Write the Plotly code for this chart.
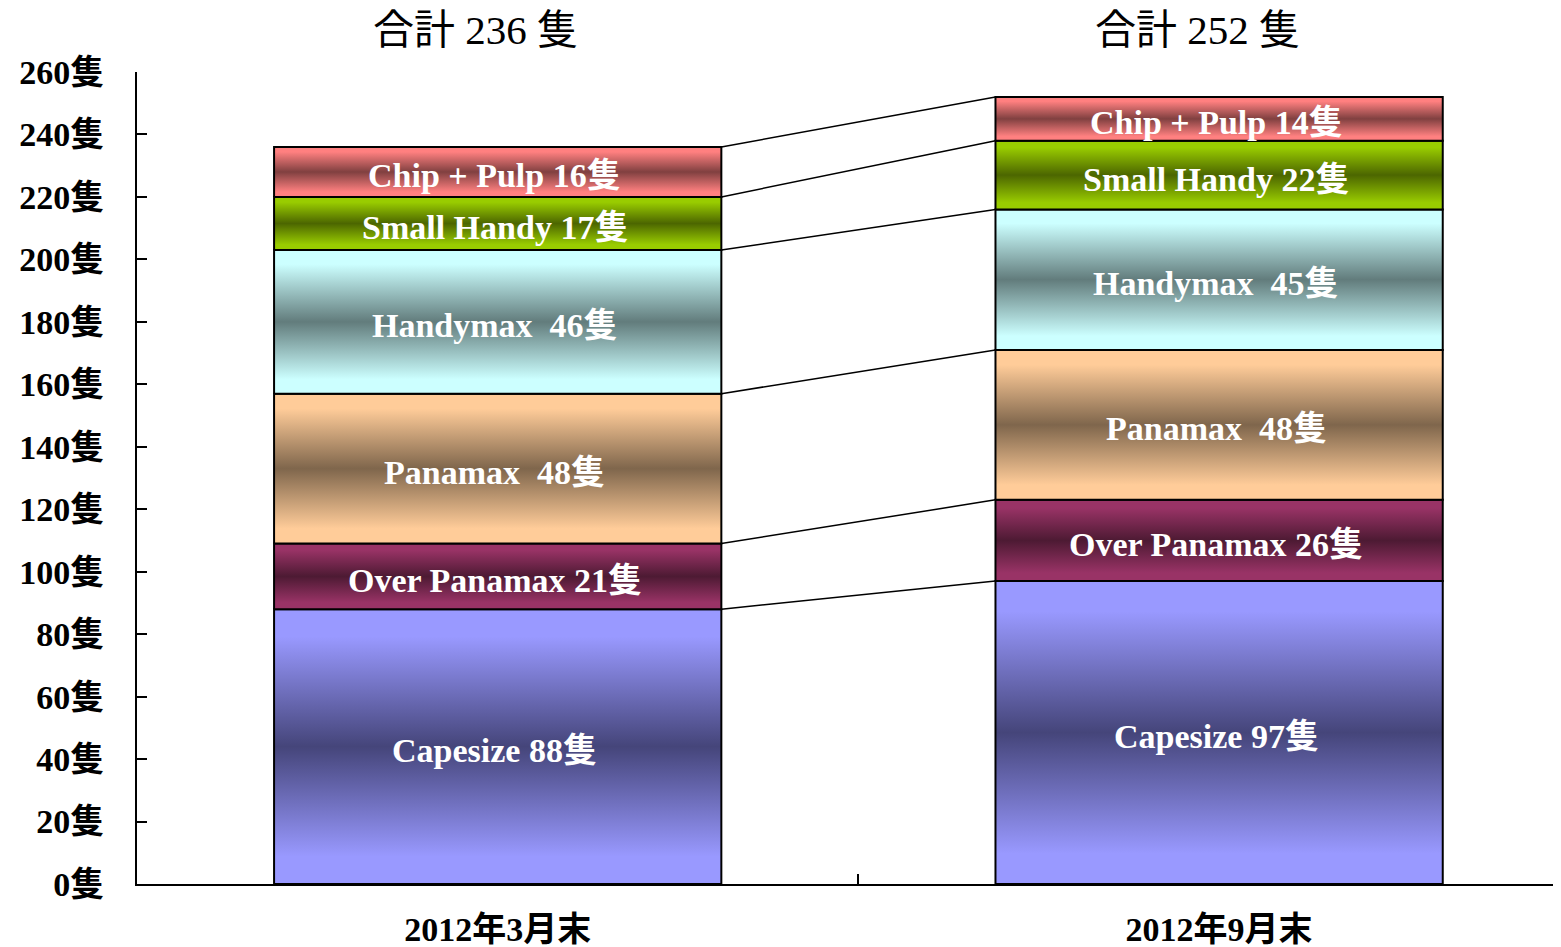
import plotly.graph_objects as go

periods = ["2012年3月末", "2012年9月末"]
categories = ["Capesize", "Over Panamax", "Panamax", "Handymax", "Small Handy", "Chip + Pulp"]
label_names = ["Capesize ", "Over Panamax ", "Panamax  ", "Handymax  ", "Small Handy ", "Chip + Pulp "]
mar_2012 = [88, 21, 48, 46, 17, 16]
sep_2012 = [97, 26, 48, 45, 22, 14]
y_ticks = list(range(0, 261, 20))

# edge colour / centre colour of each band's gradient
edge_colors = ["#9999FF", "#993366", "#FFCC99", "#CCFFFF", "#99CC00", "#FF8080"]
mid_colors = ["#45457A", "#4D1A33", "#7F664C", "#627C7C", "#4C6600", "#804040"]

SERIF = "Liberation Serif, 'Noto Sans CJK JP', serif"
BAR_W = 0.62

fig = go.Figure()

series = [mar_2012, sep_2012]
tops = []
for xi, vals in enumerate(series):
    base = 0
    col_tops = []
    for k, v in enumerate(vals):
        y0, y1 = base, base + v
        x0, x1 = xi - BAR_W / 2, xi + BAR_W / 2
        fig.add_trace(go.Scatter(
            x=[x0, x1, x1, x0, x0],
            y=[y0, y0, y1, y1, y0],
            mode="lines",
            fill="toself",
            fillgradient=dict(
                type="vertical",
                start=y0, stop=y1,
                colorscale=[[0, edge_colors[k]], [0.1, edge_colors[k]],
                            [0.5, mid_colors[k]],
                            [0.9, edge_colors[k]], [1, edge_colors[k]]],
            ),
            line=dict(color="black", width=2),
            hoverinfo="skip",
            showlegend=False,
        ))
        fig.add_annotation(
            x=xi, y=(y0 + y1) / 2, xref="x", yref="y",
            xshift=-3, yshift=-4,
            text=f"{label_names[k]}{v}隻", showarrow=False,
            font=dict(family=SERIF, size=34, color="white", weight="bold"),
        )
        base = y1
        col_tops.append(y1)
    tops.append(col_tops)

# connector lines between the two stacks
for a, b in zip(tops[0], tops[1]):
    fig.add_trace(go.Scatter(
        x=[BAR_W / 2, 1 - BAR_W / 2], y=[a, b],
        mode="lines", line=dict(color="black", width=1.5),
        hoverinfo="skip", showlegend=False,
    ))

for xi, vals in enumerate(series):
    fig.add_annotation(
        x=xi, xref="x", y=1, yref="paper", yanchor="middle", yshift=42, xshift=-22,
        text=f"合計 {sum(vals)} 隻", showarrow=False,
        font=dict(family=SERIF, size=41, color="black"),
    )

fig.update_layout(
    width=1561, height=947,
    margin=dict(l=129, r=0, t=64, b=71),
    plot_bgcolor="white", paper_bgcolor="white",
    xaxis=dict(
        range=[-0.5, 1.485], showgrid=False, zeroline=False,
        showline=True, linecolor="black", linewidth=2,
        tickvals=[0, 1], ticktext=periods, ticks="",
        ticklabelstandoff=14,
        tickfont=dict(family=SERIF, size=34, color="black", weight="bold"),
        minor=dict(tickvals=[0.5], ticks="inside", ticklen=10, tickwidth=2, tickcolor="black"),
    ),
    yaxis=dict(
        range=[0, 260], showgrid=False, zeroline=False,
        showline=True, linecolor="black", linewidth=2,
        tickvals=y_ticks, ticktext=[f"{t}隻" for t in y_ticks],
        ticks="inside", ticklen=10, tickwidth=2, tickcolor="black",
        ticklabelstandoff=24,
        tickfont=dict(family=SERIF, size=34, color="black", weight="bold"),
    ),
)

fig.write_html("out.html")
